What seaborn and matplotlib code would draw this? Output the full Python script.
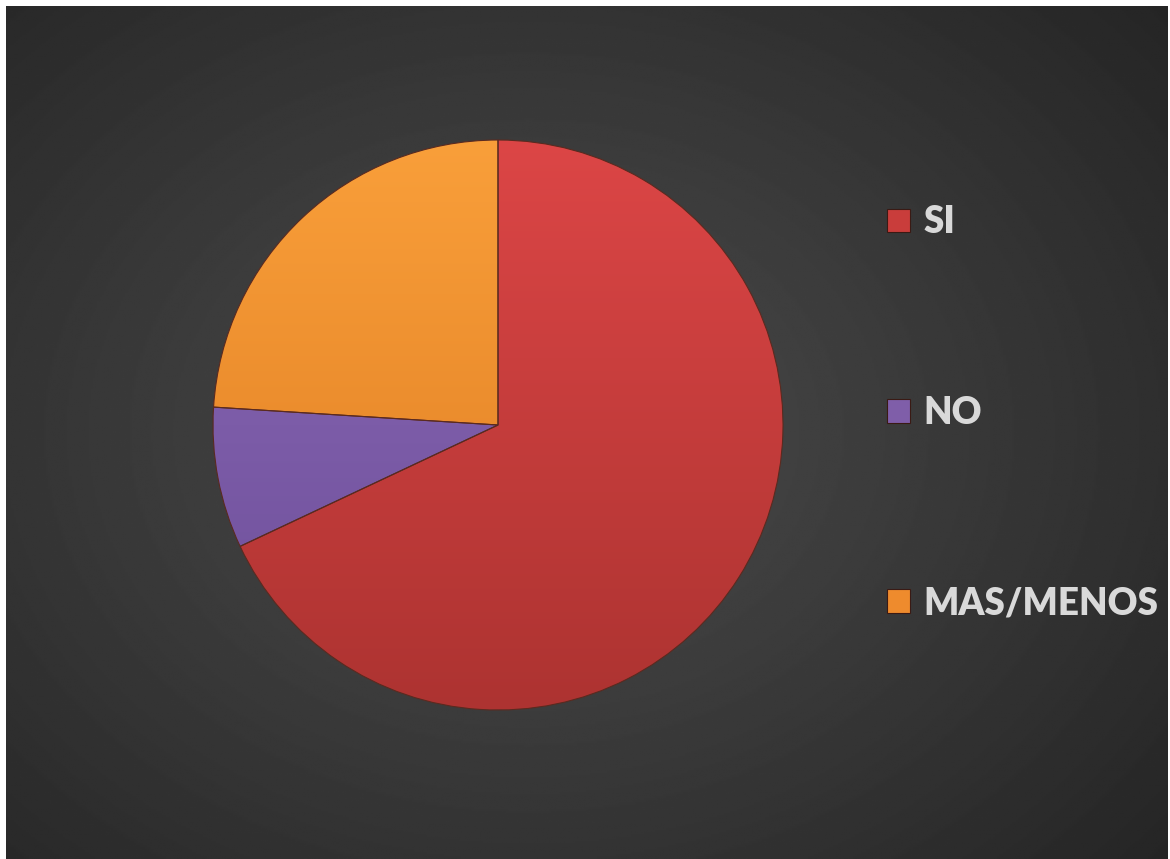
import numpy as np
import matplotlib
matplotlib.use("Agg")
import matplotlib.pyplot as plt
from matplotlib.colors import to_rgb
import seaborn as sns

labels = ["SI", "NO", "MAS/MENOS"]
values = [17, 2, 6]
colors = ["#c93d3b", "#7f5ea9", "#ee8b2d"]
top_colors = ["#dc4646", "#8c6bb8", "#f99f3a"]
bottom_colors = ["#ad3331", "#6c4d98", "#dd7a20"]

sns.set_theme(style="white")
plt.rcParams["font.family"] = ["Lato", "DejaVu Sans"]

W, H = 1170, 859
fig = plt.figure(figsize=(W / 100, H / 100), dpi=100, facecolor="white")

# dark radial background
bg = fig.add_axes([6 / W, 0, 1162 / W, 853 / H])
yy, xx = np.mgrid[0:1:400j, 0:1:540j]
d = np.sqrt(((xx - 0.45) / 0.75) ** 2 + ((yy - 0.5) / 0.8) ** 2)
shade = np.clip(0.30 - 0.16 * d, 0.145, 0.31)
bg.imshow(shade, cmap="gray", vmin=0, vmax=1, aspect="auto", extent=[0, 1, 0, 1])
bg.set_axis_off()

cx, cy, r = 498, H - 425, 285
ax = fig.add_axes([(cx - r) / W, (cy - r) / H, 2 * r / W, 2 * r / H])
wedges, _ = ax.pie(values, colors=colors, startangle=90, counterclock=False,
                   radius=1, wedgeprops=dict(edgecolor="#5a2a20", linewidth=0.8))
# vertical shading inside each slice
t = np.linspace(0, 1, 256)[:, None, None]
for w, c1, c2 in zip(wedges, top_colors, bottom_colors):
    grad = (1 - t) * np.array(to_rgb(c1)) + t * np.array(to_rgb(c2))
    grad = np.repeat(grad, 2, axis=1)
    im = ax.imshow(grad, extent=[-1, 1, -1, 1], aspect="auto", zorder=w.get_zorder() + 0.1)
    im.set_clip_path(w)
    w.set_facecolor("none")
    w.set_zorder(w.get_zorder() + 0.2)
ax.set_xlim(-1.0, 1.0)
ax.set_ylim(-1.0, 1.0)
ax.set_axis_off()

handles = [plt.Rectangle((0, 0), 1, 1, facecolor=c, edgecolor="#3a1a14", linewidth=0.8) for c in colors]
leg = fig.legend(handles, labels, loc="upper left", bbox_to_anchor=(869 / W, 1 - 187 / H),
                 frameon=False, fontsize=26.5, labelspacing=4.25, handlelength=0.62,
                 handleheight=0.62, handletextpad=0.35, borderpad=0)
for txt in leg.get_texts():
    txt.set_color("#d9d9d9")
    txt.set_fontweight("heavy")

fig.savefig("out.png", dpi=100, facecolor="white")
